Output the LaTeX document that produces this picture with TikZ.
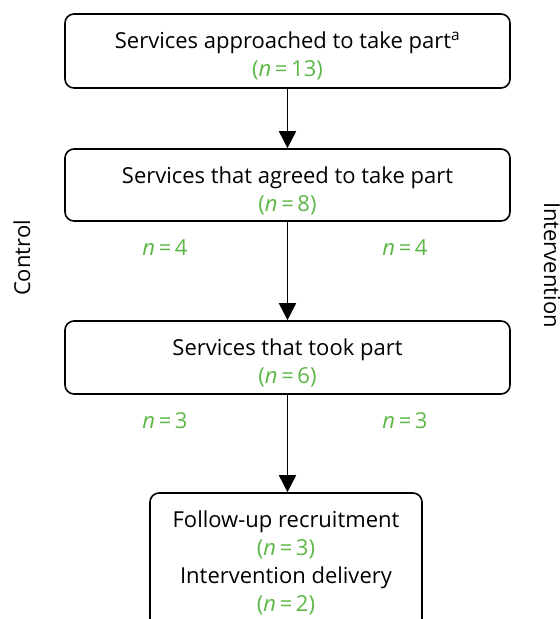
\documentclass[tikz,border=0pt]{standalone}
\usepackage{fontspec}
\setmainfont{Open Sans}
\usetikzlibrary{arrows.meta}
\definecolor{ngreen}{RGB}{92,183,70}
\newcommand{\nval}[1]{\textcolor{ngreen}{(\textit{n}\,=\,#1)}}
\newcommand{\nlab}[1]{\textcolor{ngreen}{\textit{n}\,=\,#1}}
\newcommand{\boxfont}{\fontsize{22}{28}\selectfont\lineskiplimit=-20pt\relax}

\begin{document}
\begin{tikzpicture}[x=1pt,y=-1pt]
\tikzstyle{box}=[draw, line width=1.6pt, rounded corners=9pt, inner sep=0pt]
\tikzstyle{boxtext}=[align=center, inner sep=0pt, font=\boxfont]
\tikzstyle{flow}=[line width=1.6pt, -{Triangle[length=17pt,width=17pt]}]
\tikzstyle{side}=[font=\fontsize{22}{28}\selectfont]
\clip (0,0) rectangle (560,619);
% boxes
\node [box, minimum width=445pt, minimum height=74pt] (approached) at (287.5,51) {};
\node [box, minimum width=445pt, minimum height=72pt] (agreed) at (287.5,185) {};
\node [box, minimum width=445pt, minimum height=73pt] (took) at (287.5,357.5) {};
\node [box, minimum width=272pt, minimum height=137pt] (followup) at (286,561.5) {};
% box texts
\node [boxtext] (approachedT) at ([yshift=-4.5pt]approached.center) {Services approached to take part\textsuperscript{a}\\\nval{13}};
\node [boxtext] (agreedT) at ([yshift=-5.5pt]agreed.center) {Services that agreed to take part\\\nval{8}};
\node [boxtext] (tookT) at ([yshift=-5pt]took.center) {Services that took part\\\nval{6}};
\node [boxtext] (followupT) at ([yshift=-1.5pt]followup.center) {Follow-up recruitment\\\nval{3}\\Intervention delivery\\\nval{2}};
% arrows
\draw [flow] (approached) -- (agreed);
\draw [flow] (agreed) -- (took);
\draw [flow] (took.south) -- (took.south |- followup.north);
% arm counts
\node [side] (agreedC) at (165,248) {\nlab{4}};
\node [side] (agreedI) at (405,248) {\nlab{4}};
\node [side] (tookC) at (165,421) {\nlab{3}};
\node [side] (tookI) at (405,421) {\nlab{3}};
% arm labels
\node [side, rotate=90] (control) at (22,258) {Control};
\node [side, rotate=-90] (intervention) at (552,265) {Intervention};
\end{tikzpicture}
\end{document}
